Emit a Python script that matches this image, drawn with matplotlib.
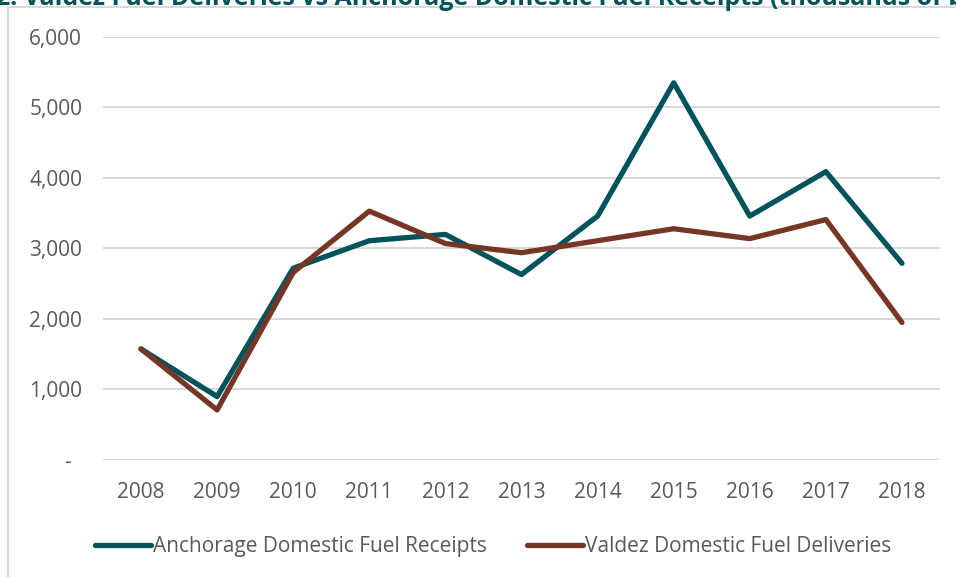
import matplotlib
matplotlib.use("Agg")
import matplotlib.pyplot as plt
import matplotlib.patches as patches
from matplotlib.ticker import FuncFormatter

# data (thousands of barrels)
years = [2008, 2009, 2010, 2011, 2012, 2013, 2014, 2015, 2016, 2017, 2018]
anchorage = [1575, 900, 2720, 3110, 3200, 2630, 3460, 5350, 3460, 4090, 2790]
valdez = [1575, 710, 2660, 3530, 3070, 2940, 3110, 3280, 3140, 3410, 1950]

TEAL = "#00535A"
BROWN = "#753626"
GRID = "#D9D9D9"
TXT = "#595959"

plt.rcParams['font.family'] = ['Open Sans', 'DejaVu Sans']

fig = plt.figure(figsize=(9.56, 5.77), dpi=100)
ax = fig.add_axes([0.1077, 0.2028, 0.8756, 0.7331])

ax.plot(years, anchorage, color=TEAL, lw=3.8, solid_capstyle='round',
        solid_joinstyle='round', label='Anchorage Domestic Fuel Receipts', zorder=3)
ax.plot(years, valdez, color=BROWN, lw=3.8, solid_capstyle='round',
        solid_joinstyle='round', label='Valdez Domestic Fuel Deliveries', zorder=3)

ax.set_xlim(2007.5, 2018.5)
ax.set_ylim(0, 6000)
ax.set_xticks(years)
ax.set_yticks(range(0, 6001, 1000))
ax.yaxis.set_major_formatter(FuncFormatter(lambda v, p: "-  " if v == 0 else f"{int(v):,}"))

ax.grid(axis='y', color=GRID, lw=1.5)
ax.set_axisbelow(True)
for s in ax.spines.values():
    s.set_visible(False)
ax.tick_params(length=0, labelsize=15, colors=TXT)
ax.tick_params(axis='x', pad=15.5)
ax.tick_params(axis='y', pad=15)

leg = ax.legend(loc='upper center', bbox_to_anchor=(0.466, -0.135), ncol=2,
                frameon=False, fontsize=15, handlelength=2.7, handletextpad=0.1,
                columnspacing=1.9)
for t in leg.get_texts():
    t.set_color(TXT)

# chart frame (partly outside the crop)
fig.patches.append(patches.Rectangle((8 / 956, -0.02), 1.0, 1 - 7 / 577 + 0.02,
                                     transform=fig.transFigure, fill=False,
                                     edgecolor=GRID, lw=1.5, clip_on=False))

fig.text(-0.004, 1 - 5 / 577,
         "2. Valdez Fuel Deliveries vs Anchorage Domestic Fuel Receipts (thousands of barrels)",
         color=TEAL, fontsize=18, fontweight='bold', va='baseline', ha='left')

fig.savefig("out.png", dpi=100)
